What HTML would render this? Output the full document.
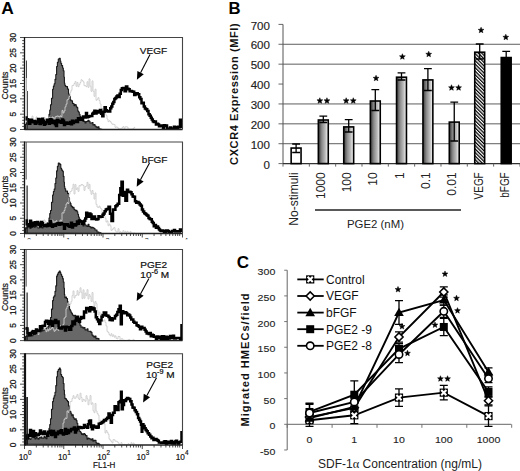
<!DOCTYPE html><html><head><meta charset="utf-8"><style>text{font-family:"Liberation Sans",sans-serif}html,body{margin:0;padding:0;background:#fff;width:520px;height:471px;overflow:hidden;position:relative}</style></head><body><svg width="520" height="471" viewBox="0 0 520 471" style="position:absolute;left:0;top:0">
<rect width="520" height="471" fill="#fff"/>
<text x="1.3" y="13.9" font-weight="bold" font-size="17.4">A</text>
<text x="228.6" y="13.85" font-weight="bold" font-size="16.7">B</text>
<text x="236.8" y="267.6" font-weight="bold" font-size="17">C</text>
<clipPath id="cb0"><rect x="24.5" y="37.5" width="158.0" height="92.0"/></clipPath>
<g clip-path="url(#cb0)">
<polygon points="25.5,129.92 25.5,129.92 25.5,124.34 26.33,124.34 26.33,122.8 27.17,122.8 27.17,123.86 28,123.86 28,122.41 29,122.41 29,123.32 30,123.32 30,124.56 31,124.56 31,122.48 32,122.48 32,122.61 33,122.61 33,122.41 34,122.41 34,124.03 35,124.03 35,123.48 36,123.48 36,122.18 37,122.18 37,121.97 38,121.97 38,124.4 39,124.4 39,123.41 40,123.41 40,121.69 41,121.69 41,121.43 42,121.43 42,122.81 43,122.81 43,122.5 44,122.5 44,120.36 45,120.36 45,123.09 46,123.09 46,121.64 47,121.64 47,121.5 48,121.5 48,120.35 49,120.35 49,114.42 49.75,114.42 49.75,109.96 50.5,109.96 50.5,104.74 51.5,104.74 51.5,98.27 52.6,98.27 52.6,89.3 53.4,89.3 53.4,86.17 54.2,86.17 54.2,83.81 55,83.81 55,79.39 55.8,79.39 55.8,74.55 56.6,74.55 56.6,66.56 57.4,66.56 57.4,62.21 58.3,62.21 58.3,59.07 59.3,59.07 59.3,58.37 60.2,58.37 60.2,60.95 60.8,60.95 60.8,63.29 61.6,63.29 61.6,65.61 62.6,65.61 62.6,67.98 63.3,67.98 63.3,70.79 64,70.79 64,77.02 64.4,77.02 64.4,83.11 64.8,83.11 64.8,85.32 65.65,85.32 65.65,86.44 66.5,86.44 66.5,86.6 67.5,86.6 67.5,88.95 68.5,88.95 68.5,94.01 69.5,94.01 69.5,96.35 70.25,96.35 70.25,99.92 71,99.92 71,100.7 71.75,100.7 71.75,100.88 72.5,100.88 72.5,103.34 73.25,103.34 73.25,103.53 74,103.53 74,105.61 74.75,105.61 74.75,104.6 75.5,104.6 75.5,104.87 76.25,104.87 76.25,106.82 77,106.82 77,107.6 77.75,107.6 77.75,110.95 78.5,110.95 78.5,112.03 79.25,112.03 79.25,114.27 80,114.27 80,116.31 80.75,116.31 80.75,118.11 81.5,118.11 81.5,118.68 82.25,118.68 82.25,119.43 83,119.43 83,121.56 84,121.56 84,121.27 85,121.27 85,122.89 86,122.89 86,121.52 87,121.52 87,121.4 88,121.4 88,120.32 89,120.32 89,121.23 90,121.23 90,123.02 91,123.02 91,123.02 92,123.02 92,122.6 93,122.6 93,124.9 94,124.9 94,124.59 95,124.59 95,126.05 96,126.05 96,126.92 97,126.92 97,127.81 98,127.81 98,126.86 99,126.86 99,128.89 100,128.89 100,129.11 101,129.11 101,129.26 102,129.26 102,129.5" fill="#686868" stroke="#1a1a1a" stroke-width="1.1" stroke-linejoin="round"/>
<polyline points="26,119.01 27,119.01 27,121.18 28,121.18 28,118.7 29,118.7 29,119.8 30,119.8 30,119.97 31,119.97 31,118.22 32,118.22 32,116.04 33,116.04 33,119.89 34,119.89 34,120.84 35,120.84 35,120.06 36,120.06 36,116.96 37,116.96 37,118.17 38,118.17 38,122.9 39,122.9 39,120.8 40,120.8 40,118.57 41,118.57 41,119.57 42,119.57 42,119.56 43,119.56 43,117.64 44,117.64 44,117.45 45,117.45 45,120.48 46,120.48 46,120.82 47,120.82 47,120.02 48,120.02 48,118.23 49,118.23 49,117.19 50,117.19 50,118.74 51,118.74 51,118.44 52,118.44 52,117.03 53,117.03 53,117.8 54,117.8 54,121.28 55,121.28 55,116.9 56,116.9 56,116.38 57,116.38 57,116 58,116 58,116.31 59,116.31 59,116.93 60,116.93 60,115.9 61,115.9 61,116.67 62,116.67 62,110.43 63,110.43 63,113 64,113 64,110.96 65,110.96 65,106.83 66,106.83 66,104.2 67,104.2 67,99.78 68,99.78 68,99.08 69,99.08 69,96.5 70,96.5 70,92.29 71,92.29 71,90.19 72,90.19 72,85.59 73,85.59 73,85.3 74,85.3 74,83.51 75,83.51 75,81.59 76,81.59 76,86.31 77,86.31 77,82.48 78,82.48 78,86.72 79,86.72 79,84.59 80,84.59 80,82.52 81,82.52 81,79.71 82,79.71 82,80.56 83,80.56 83,81.77 84,81.77 84,85.63 85,85.63 85,85.81 86,85.81 86,86.68 87,86.68 87,81.76 88,81.76 88,87.38 89,87.38 89,78.87 90,78.87 90,86.21 91,86.21 91,91.32 92,91.32 92,80.89 93,80.89 93,91.27 94,91.27 94,96.33 95,96.33 95,89.15 96,89.15 96,100.28 97,100.28 97,99.28 98,99.28 98,97.67 99,97.67 99,100.59 100,100.59 100,103.93 101,103.93 101,108.41 102,108.41 102,108.57 103,108.57 103,112.16 104,112.16 104,109.32 105,109.32 105,113.74 106,113.74 106,115.38 107,115.38 107,119.18 108,119.18 108,121.61 109,121.61 109,120.75 110,120.75 110,121.56 111,121.56 111,123.09 112,123.09 112,124.28 113,124.28 113,124.23 114,124.23 114,124.54 115,124.54 115,127.34 116,127.34 116,126.93 117,126.93 117,127.33 118,127.33 118,128.38 119,128.38 119,129.14 120,129.14 120,128.88 121,128.88 121,129.09 122,129.09 122,127.48 123,127.48 123,126.55 124,126.55 124,128.71 125,128.71 125,126.88 126,126.88 126,126.8 127,126.8 127,127.05 128,127.05 128,129.2 129,129.2 129,129.2 130,129.2 130,129.2 131,129.2 131,129.2 132,129.2 132,129.2 133,129.2 133,128.5 134,128.5 134,127.4 135,127.4 135,127.64" fill="none" stroke="#cdcdcd" stroke-width="0.9"/>
<polyline points="25.5,117.61 26.75,117.61 26.75,119.2 28,119.2 28,120.94 29,120.94 29,123.66 30,123.66 30,119.66 31,119.66 31,119.87 32,119.87 32,122.03 33,122.03 33,120.95 34,120.95 34,121.11 35,121.11 35,123.67 36,123.67 36,121.5 37,121.5 37,122.62 38,122.62 38,118.94 39,118.94 39,119.55 40,119.55 40,124.04 41,124.04 41,122.76 42,122.76 42,118.68 43,118.68 43,120.83 44,120.83 44,124.72 45,124.72 45,123.69 46,123.69 46,122.31 47,122.31 47,119.64 48,119.64 48,121.41 49,121.41 49,123.84 50,123.84 50,119.3 51,119.3 51,119.75 52,119.75 52,122.68 53,122.68 53,123.03 54,123.03 54,120.75 55,120.75 55,124.17 56,124.17 56,126.03 57,126.03 57,120.05 58,120.05 58,120.72 59,120.72 59,122.36 60,122.36 60,121.25 61,121.25 61,122.84 62,122.84 62,119.57 63,119.57 63,120.8 64,120.8 64,125 65,125 65,123.79 66,123.79 66,122.58 67,122.58 67,123.85 68,123.85 68,123.05 69,123.05 69,123.75 70,123.75 70,121.92 71,121.92 71,124.17 72,124.17 72,120.87 73,120.87 73,123.01 74,123.01 74,121.72 75,121.72 75,121.57 76,121.57 76,120.4 77,120.4 77,121.91 78,121.91 78,118.33 79,118.33 79,119.84 80,119.84 80,119.03 81,119.03 81,118.04 82,118.04 82,119.64 83,119.64 83,116.41 84,116.41 84,117.21 85,117.21 85,117.61 86,117.61 86,112.94 87,112.94 87,117.2 88,117.2 88,116.64 89,116.64 89,116.33 90.1,116.33 90.1,115.97 91.2,115.97 91.2,115.94 92.3,115.94 92.3,113.7 93.33,113.7 93.33,112.75 94.37,112.75 94.37,110.79 95.4,110.79 95.4,113.55 96.55,113.55 96.55,111.01 97.7,111.01 97.7,112.46 98.85,112.46 98.85,112.14 100,112.14 100,109.95 101.15,109.95 101.15,113.63 102.3,113.63 102.3,116.31 103.45,116.31 103.45,111.69 104.6,111.69 104.6,107.21 105.8,107.21 105.8,110.18 107,110.18 107,111.15 108.1,111.15 108.1,111.48 109.2,111.48 109.2,111.46 110.23,111.46 110.23,108.33 111.27,108.33 111.27,106.52 112.3,106.52 112.3,103.7 113.33,103.7 113.33,102.1 114.37,102.1 114.37,98.89 115.4,98.89 115.4,97.88 116.43,97.88 116.43,96.56 117.47,96.56 117.47,95.59 118.5,95.59 118.5,96.95 119.65,96.95 119.65,93.66 120.8,93.66 120.8,90.12 121.9,90.12 121.9,88.14 123,88.14 123,88.03 124.6,88.03 124.6,91.18 126,91.18 126,86.38 127.25,86.38 127.25,88.68 128.5,88.68 128.5,89.31 129.65,89.31 129.65,91.33 130.8,91.33 130.8,90.97 131.9,90.97 131.9,91.41 133,91.41 133,91.86 134.2,91.86 134.2,94.88 135.4,94.88 135.4,93.83 136.55,93.83 136.55,93.3 137.7,93.3 137.7,94.21 139.2,94.21 139.2,97.31 140.35,97.31 140.35,98.94 141.5,98.94 141.5,103.17 142.65,103.17 142.65,102.84 143.8,102.84 143.8,106.52 144.9,106.52 144.9,108.54 146,108.54 146,109.27 147.25,109.27 147.25,110.91 148.5,110.91 148.5,114.16 149.65,114.16 149.65,115.66 150.8,115.66 150.8,117.75 151.8,117.75 151.8,119.54 152.8,119.54 152.8,121.22 153.8,121.22 153.8,122.07 154.87,122.07 154.87,121.57 155.93,121.57 155.93,124.53 157,124.53 157,123.63 158,123.63 158,124.52 159,124.52 159,126.37 160,126.37 160,125.93 161,125.93 161,125.38 162,125.38 162,126.1 163,126.1 163,127.86 164,127.86 164,125.15 165,125.15 165,125.93 166,125.93 166,125.53 167,125.53 167,128.73 168,128.73 168,128.73 169,128.73 169,129 170,129 170,127.46 171,127.46 171,129 172,129 172,129 173,129 173,128.41 174,128.41 174,126.72 175,126.72 175,127.17 176,127.17 176,129 177,129 177,129 178,129 178,126.69 179,126.69 179,127.28 180,127.28 180,119.87 181,119.87 181,124.78 182,124.78 182,127.88" fill="none" stroke="#000" stroke-width="2.5" stroke-linejoin="miter" stroke-miterlimit="2"/>
<line x1="26.5" y1="60.5" x2="26.5" y2="78" stroke="#333" stroke-width="0.9"/><line x1="26.5" y1="78" x2="26.5" y2="91" stroke="#999" stroke-width="0.8"/><line x1="27.3" y1="91" x2="27.3" y2="129.5" stroke="#222" stroke-width="1"/>
</g>
<path d="M24.5,37.5 H182.5 V129.5" fill="none" stroke="#444" stroke-width="1.1"/>
<line x1="24.5" y1="129.5" x2="182.5" y2="129.5" stroke="#222" stroke-width="1.3"/>
<line x1="24.5" y1="37.0" x2="24.5" y2="130.0" stroke="#111" stroke-width="1.3"/>
<path d="M20,129.5H24.5M22.2,126.43H24.5M22.2,123.37H24.5M22.2,120.3H24.5M22.2,117.23H24.5M20,114.17H24.5M22.2,111.1H24.5M22.2,108.03H24.5M22.2,104.97H24.5M22.2,101.9H24.5M20,98.83H24.5M22.2,95.77H24.5M22.2,92.7H24.5M22.2,89.63H24.5M22.2,86.57H24.5M20,83.5H24.5M22.2,80.43H24.5M22.2,77.37H24.5M22.2,74.3H24.5M22.2,71.23H24.5M20,68.17H24.5M22.2,65.1H24.5M22.2,62.03H24.5M22.2,58.97H24.5M22.2,55.9H24.5M20,52.83H24.5M22.2,49.77H24.5M22.2,46.7H24.5M22.2,43.63H24.5M22.2,40.57H24.5M20,37.5H24.5" stroke="#222" stroke-width="0.8"/>
<text transform="translate(16.4,129.5) rotate(-90)" text-anchor="middle" font-size="8.4" fill="#111" stroke="#111" stroke-width="0.25">0</text>
<text transform="translate(16.4,114.17) rotate(-90)" text-anchor="middle" font-size="8.4" fill="#111" stroke="#111" stroke-width="0.25">5</text>
<text transform="translate(16.4,98.83) rotate(-90)" text-anchor="middle" font-size="8.4" fill="#111" stroke="#111" stroke-width="0.25">10</text>
<text transform="translate(16.4,83.5) rotate(-90)" text-anchor="middle" font-size="8.4" fill="#111" stroke="#111" stroke-width="0.25">15</text>
<text transform="translate(16.4,68.17) rotate(-90)" text-anchor="middle" font-size="8.4" fill="#111" stroke="#111" stroke-width="0.25">20</text>
<text transform="translate(16.4,52.83) rotate(-90)" text-anchor="middle" font-size="8.4" fill="#111" stroke="#111" stroke-width="0.25">25</text>
<text transform="translate(16.4,37.5) rotate(-90)" text-anchor="middle" font-size="8.4" fill="#111" stroke="#111" stroke-width="0.25">30</text>
<text transform="translate(8.2,85.5) rotate(-90)" text-anchor="middle" font-size="8.9" fill="#111" stroke="#111" stroke-width="0.2">Counts</text>
<text transform="translate(139.8,54) scale(1.13,1)" font-size="8.9" fill="#111" stroke="#111" stroke-width="0.2">VEGF</text>
<line x1="150" y1="54.6" x2="140.59" y2="72.7" stroke="#000" stroke-width="1.1"/>
<polygon points="136.9,79.8 137.4,71.04 143.78,74.36" fill="#000"/>
<clipPath id="cb1"><rect x="24.5" y="142" width="158.0" height="91.5"/></clipPath>
<g clip-path="url(#cb1)">
<polygon points="25.5,233.05 25.5,233.05 25.5,227.68 26.33,227.68 26.33,228.19 27.17,228.19 27.17,225.78 28,225.78 28,226.18 29,226.18 29,226.28 30,226.28 30,228.5 31,228.5 31,225.65 32,225.65 32,226.54 33,226.54 33,225.38 34,225.38 34,227.11 35,227.11 35,226.89 36,226.89 36,225.87 37,225.87 37,225.73 38,225.73 38,228.06 39,228.06 39,227.64 40,227.64 40,225.94 41,225.94 41,227.13 42,227.13 42,227.94 43,227.94 43,227.06 44,227.06 44,226.58 45,226.58 45,226.72 46,226.72 46,226.95 47,226.95 47,225.47 48,225.47 48,222.88 49,222.88 49,218 49.75,218 49.75,213.62 50.5,213.62 50.5,210.51 51.5,210.51 51.5,202.19 52.6,202.19 52.6,195.06 53.4,195.06 53.4,191.53 54.2,191.53 54.2,189.12 55,189.12 55,183.44 55.8,183.44 55.8,177.94 56.6,177.94 56.6,170.89 57.4,170.89 57.4,166.24 58.3,166.24 58.3,163.16 59.3,163.16 59.3,163.86 60.2,163.86 60.2,164.42 60.8,164.42 60.8,168.32 61.6,168.32 61.6,170.15 62.6,170.15 62.6,171.32 63.3,171.32 63.3,176.34 64,176.34 64,182 64.4,182 64.4,186.52 64.8,186.52 64.8,188.78 65.65,188.78 65.65,191.31 66.5,191.31 66.5,191.12 67.5,191.12 67.5,193.4 68.5,193.4 68.5,197.53 69.5,197.53 69.5,202.05 70.25,202.05 70.25,203.67 71,203.67 71,205.86 71.75,205.86 71.75,206.67 72.5,206.67 72.5,207.8 73.25,207.8 73.25,207.18 74,207.18 74,209.34 74.75,209.34 74.75,210.05 75.5,210.05 75.5,210.74 76.25,210.74 76.25,210.41 77,210.41 77,211.82 77.75,211.82 77.75,214.2 78.5,214.2 78.5,217.02 79.25,217.02 79.25,219.12 80,219.12 80,221 80.75,221 80.75,222.1 81.5,222.1 81.5,224.32 82.25,224.32 82.25,224.63 83,224.63 83,226.07 84,226.07 84,224.56 85,224.56 85,224.7 86,224.7 86,225.89 87,225.89 87,226.36 88,226.36 88,224.38 89,224.38 89,226.46 90,226.46 90,226.84 91,226.84 91,227.95 92,227.95 92,227.28 93,227.28 93,227.81 94,227.81 94,228.49 95,228.49 95,229.97 96,229.97 96,229.99 97,229.99 97,231.94 98,231.94 98,232.07 99,232.07 99,232.98 100,232.98 100,232.74 101,232.74 101,234.1 102,234.1 102,233.5" fill="#686868" stroke="#1a1a1a" stroke-width="1.1" stroke-linejoin="round"/>
<polyline points="26,226.41 27,226.41 27,224.28 28,224.28 28,223.57 29,223.57 29,223.66 30,223.66 30,225.38 31,225.38 31,222.5 32,222.5 32,220.87 33,220.87 33,222.14 34,222.14 34,222.98 35,222.98 35,223.94 36,223.94 36,223.2 37,223.2 37,222.06 38,222.06 38,226.9 39,226.9 39,222.6 40,222.6 40,220.93 41,220.93 41,224.32 42,224.32 42,222.16 43,222.16 43,220.43 44,220.43 44,219.99 45,219.99 45,221.56 46,221.56 46,223.25 47,223.25 47,224.94 48,224.94 48,222.4 49,222.4 49,222.98 50,222.98 50,222.16 51,222.16 51,221.28 52,221.28 52,220.19 53,220.19 53,222.16 54,222.16 54,221.93 55,221.93 55,221.77 56,221.77 56,220.73 57,220.73 57,222.58 58,222.58 58,223.38 59,223.38 59,221.97 60,221.97 60,220.06 61,220.06 61,220.66 62,220.66 62,212.81 63,212.81 63,213.03 64,213.03 64,210.48 65,210.48 65,207.49 66,207.49 66,204.05 67,204.05 67,202.59 68,202.59 68,203.47 69,203.47 69,194.12 70,194.12 70,191.51 71,191.51 71,190.98 72,190.98 72,188.22 73,188.22 73,184.23 74,184.23 74,193.97 75,193.97 75,184.61 76,184.61 76,189.48 77,189.48 77,187.9 78,187.9 78,191.38 79,191.38 79,185.67 80,185.67 80,185.86 81,185.86 81,184.58 82,184.58 82,184.69 83,184.69 83,185.55 84,185.55 84,190.44 85,190.44 85,186.67 86,186.67 86,186.03 87,186.03 87,182.36 88,182.36 88,188.56 89,188.56 89,184.36 90,184.36 90,190.88 91,190.88 91,194.32 92,194.32 92,190.47 93,190.47 93,193.55 94,193.55 94,199.06 95,199.06 95,192.96 96,192.96 96,204.4 97,204.4 97,207.01 98,207.01 98,207.35 99,207.35 99,206.12 100,206.12 100,207.96 101,207.96 101,209.09 102,209.09 102,213.17 103,213.17 103,213.37 104,213.37 104,215.78 105,215.78 105,218.27 106,218.27 106,222.03 107,222.03 107,220.93 108,220.93 108,225.7 109,225.7 109,224.09 110,224.09 110,225.75 111,225.75 111,230.43 112,230.43 112,229.66 113,229.66 113,228.22 114,228.22 114,227.63 115,227.63 115,230.45 116,230.45 116,231.93 117,231.93 117,231.91 118,231.91 118,228.72 119,228.72 119,232.41 120,232.41 120,231.67 121,231.67 121,233.2 122,233.2 122,232.15 123,232.15 123,230.56 124,230.56 124,233.2 125,233.2 125,231.34 126,231.34 126,232.72 127,232.72 127,231.33 128,231.33 128,232.19 129,232.19 129,233.2 130,233.2 130,231.41 131,231.41 131,233.06 132,233.06 132,233.2 133,233.2 133,233.2 134,233.2 134,233.03 135,233.03 135,233.2" fill="none" stroke="#cdcdcd" stroke-width="0.9"/>
<polyline points="25.5,220.53 26.75,220.53 26.75,224.37 28,224.37 28,226.31 29,226.31 29,224.96 30,224.96 30,220.73 31,220.73 31,226.59 32,226.59 32,224.2 33,224.2 33,222.74 34,222.74 34,225.48 35,225.48 35,222.28 36,222.28 36,224.39 37,224.39 37,221.91 38,221.91 38,223.59 39,223.59 39,224.66 40,224.66 40,226.06 41,226.06 41,221.91 42,221.91 42,223.04 43,223.04 43,225.22 44,225.22 44,225.87 45,225.87 45,225.17 46,225.17 46,224.85 47,224.85 47,226.07 48,226.07 48,223.76 49,223.76 49,225.61 50,225.61 50,221.23 51,221.23 51,225.8 52,225.8 52,226.72 53,226.72 53,224.44 54,224.44 54,225.11 55,225.11 55,225.66 56,225.66 56,224.13 57,224.13 57,223.5 58,223.5 58,222.88 59,222.88 59,224.82 60,224.82 60,224.35 61,224.35 61,223.21 62,223.21 62,224.24 63,224.24 63,224.36 64,224.36 64,228.84 65,228.84 65,224.29 66,224.29 66,224.76 67,224.76 67,224.19 68,224.19 68,225.75 69,225.75 69,226.61 70,226.61 70,226.85 71,226.85 71,222.78 72,222.78 72,227.44 73,227.44 73,224.64 74,224.64 74,224.31 75,224.31 75,225.55 76,225.55 76,224.26 77,224.26 77,221.52 78,221.52 78,223.75 79,223.75 79,220.54 80,220.54 80,221.24 81.15,221.24 81.15,221.45 82.3,221.45 82.3,223.85 83.28,223.85 83.28,222.9 84.25,222.9 84.25,220.81 85.22,220.81 85.22,218.44 86.2,218.44 86.2,212.69 87.2,212.69 87.2,215.05 88.2,215.05 88.2,216.72 89.2,216.72 89.2,213.39 90.35,213.39 90.35,214.52 91.5,214.52 91.5,218.96 92.65,218.96 92.65,218.62 93.8,218.62 93.8,216.4 95,216.4 95,218.88 96.2,218.88 96.2,219.52 97.35,219.52 97.35,218.88 98.5,218.88 98.5,216.16 99.5,216.16 99.5,217.12 100.5,217.12 100.5,216.72 101.5,216.72 101.5,216.79 102.53,216.79 102.53,214.85 103.57,214.85 103.57,213.54 104.6,213.54 104.6,211.17 105.8,211.17 105.8,209.62 107,209.62 107,208.88 108.5,208.88 108.5,206.8 110,206.8 110,213.87 111.5,213.87 111.5,220.89 113,220.89 113,209.44 114.2,209.44 114.2,209.77 115.4,209.77 115.4,206.29 116.55,206.29 116.55,205.15 117.7,205.15 117.7,203.67 119.2,203.67 119.2,194.89 120.35,194.89 120.35,188.16 121.5,188.16 121.5,181.68 122.8,181.68 122.8,195.81 123.7,195.81 123.7,194.67 124.6,194.67 124.6,192.08 125.4,192.08 125.4,200.71 127,200.71 127,189.74 128.1,189.74 128.1,192.04 129.2,192.04 129.2,191.66 130.35,191.66 130.35,192.2 131.5,192.2 131.5,194.27 132.65,194.27 132.65,196.38 133.8,196.38 133.8,196.83 135,196.83 135,201.36 136.2,201.36 136.2,202.84 137.35,202.84 137.35,201.92 138.5,201.92 138.5,202.98 139.65,202.98 139.65,204.49 140.8,204.49 140.8,205.73 141.9,205.73 141.9,209.48 143,209.48 143,211.42 144.2,211.42 144.2,213.18 145.4,213.18 145.4,213.93 146.43,213.93 146.43,215 147.47,215 147.47,215.76 148.5,215.76 148.5,218.01 149.65,218.01 149.65,218.99 150.8,218.99 150.8,219.37 151.8,219.37 151.8,221.87 152.8,221.87 152.8,223.11 153.8,223.11 153.8,226.24 154.87,226.24 154.87,224.92 155.93,224.92 155.93,227.63 157,227.63 157,226.49 158,226.49 158,227.88 159,227.88 159,229.48 160,229.48 160,230.56 161,230.56 161,230.97 162,230.97 162,230.57 163,230.57 163,230.88 164,230.88 164,233 165,233 165,232.59 166,232.59 166,230.42 167,230.42 167,230.49 168,230.49 168,231.35 169,231.35 169,232.61 170,232.61 170,232.18 171,232.18 171,233 172,233 172,231.12 173,231.12 173,231.12 174,231.12 174,230.07 175,230.07 175,231.55 176,231.55 176,231.3 177,231.3 177,231.58 178,231.58 178,231.33 179,231.33 179,231.54 180,231.54 180,229.56 181,229.56 181,230.61 182,230.61 182,232.1" fill="none" stroke="#000" stroke-width="2.5" stroke-linejoin="miter" stroke-miterlimit="2"/>
<line x1="27.1" y1="185.5" x2="27.1" y2="233.5" stroke="#111" stroke-width="1.1"/>
<line x1="26.2" y1="142" x2="26.2" y2="179.5" stroke="#444" stroke-width="0.9"/>
</g>
<path d="M24.5,142 H182.5 V233.5" fill="none" stroke="#444" stroke-width="1.1"/>
<line x1="24.5" y1="233.5" x2="182.5" y2="233.5" stroke="#222" stroke-width="1.3"/>
<line x1="24.5" y1="141.5" x2="24.5" y2="234.0" stroke="#111" stroke-width="1.3"/>
<path d="M20,233.5H24.5M22.2,230.45H24.5M22.2,227.4H24.5M22.2,224.35H24.5M22.2,221.3H24.5M20,218.25H24.5M22.2,215.2H24.5M22.2,212.15H24.5M22.2,209.1H24.5M22.2,206.05H24.5M20,203H24.5M22.2,199.95H24.5M22.2,196.9H24.5M22.2,193.85H24.5M22.2,190.8H24.5M20,187.75H24.5M22.2,184.7H24.5M22.2,181.65H24.5M22.2,178.6H24.5M22.2,175.55H24.5M20,172.5H24.5M22.2,169.45H24.5M22.2,166.4H24.5M22.2,163.35H24.5M22.2,160.3H24.5M20,157.25H24.5M22.2,154.2H24.5M22.2,151.15H24.5M22.2,148.1H24.5M22.2,145.05H24.5M20,142H24.5" stroke="#222" stroke-width="0.8"/>
<text transform="translate(16.4,233.5) rotate(-90)" text-anchor="middle" font-size="8.4" fill="#111" stroke="#111" stroke-width="0.25">0</text>
<text transform="translate(16.4,218.25) rotate(-90)" text-anchor="middle" font-size="8.4" fill="#111" stroke="#111" stroke-width="0.25">5</text>
<text transform="translate(16.4,203) rotate(-90)" text-anchor="middle" font-size="8.4" fill="#111" stroke="#111" stroke-width="0.25">10</text>
<text transform="translate(16.4,187.75) rotate(-90)" text-anchor="middle" font-size="8.4" fill="#111" stroke="#111" stroke-width="0.25">15</text>
<text transform="translate(16.4,172.5) rotate(-90)" text-anchor="middle" font-size="8.4" fill="#111" stroke="#111" stroke-width="0.25">20</text>
<text transform="translate(16.4,157.25) rotate(-90)" text-anchor="middle" font-size="8.4" fill="#111" stroke="#111" stroke-width="0.25">25</text>
<text transform="translate(16.4,142) rotate(-90)" text-anchor="middle" font-size="8.4" fill="#111" stroke="#111" stroke-width="0.25">30</text>
<text transform="translate(8.2,189.75) rotate(-90)" text-anchor="middle" font-size="8.9" fill="#111" stroke="#111" stroke-width="0.2">Counts</text>
<path d="M24.5,233.5v4M36.32,233.5v2.5M43.23,233.5v2.5M48.13,233.5v2.5M51.93,233.5v2.5M55.04,233.5v2.5M57.67,233.5v2.5M59.95,233.5v2.5M61.95,233.5v2.5M63.75,233.5v4M75.57,233.5v2.5M82.48,233.5v2.5M87.38,233.5v2.5M91.18,233.5v2.5M94.29,233.5v2.5M96.92,233.5v2.5M99.2,233.5v2.5M101.2,233.5v2.5M103,233.5v4M114.82,233.5v2.5M121.73,233.5v2.5M126.63,233.5v2.5M130.43,233.5v2.5M133.54,233.5v2.5M136.17,233.5v2.5M138.45,233.5v2.5M140.45,233.5v2.5M142.25,233.5v4M154.07,233.5v2.5M160.98,233.5v2.5M165.88,233.5v2.5M169.68,233.5v2.5M172.79,233.5v2.5M175.42,233.5v2.5M177.7,233.5v2.5M179.7,233.5v2.5M182.5,233.5v4" stroke="#222" stroke-width="0.8"/>
<text transform="translate(141.8,162.5) scale(1.13,1)" font-size="8.9" fill="#111" stroke="#111" stroke-width="0.2">bFGF</text>
<line x1="149.5" y1="162.9" x2="140.48" y2="179.75" stroke="#000" stroke-width="1.1"/>
<polygon points="136.7,186.8 137.3,178.05 143.65,181.45" fill="#000"/>
<clipPath id="cb2"><rect x="24.5" y="249.5" width="158.0" height="91.10000000000002"/></clipPath>
<g clip-path="url(#cb2)">
<polygon points="25.5,341.75 25.5,341.75 25.5,336.6 26.33,336.6 26.33,335.85 27.17,335.85 27.17,336.13 28,336.13 28,336.18 29,336.18 29,335.45 30,335.45 30,335.08 31,335.08 31,336.01 32,336.01 32,335.72 33,335.72 33,334.49 34,334.49 34,333.79 35,333.79 35,332.66 36,332.66 36,333.32 37,333.32 37,331.64 38,331.64 38,331.53 39,331.53 39,331.59 40,331.59 40,331.81 41,331.81 41,329.72 42,329.72 42,331.05 43,331.05 43,329.33 44,329.33 44,330.25 45,330.25 45,329.77 46,329.77 46,327.97 47,327.97 47,328.59 48,328.59 48,326.52 49,326.52 49,324.61 49.75,324.61 49.75,321.47 50.5,321.47 50.5,317.5 51.5,317.5 51.5,309.12 52.6,309.12 52.6,300.6 53.4,300.6 53.4,296.95 54.2,296.95 54.2,295.91 55,295.91 55,291.36 55.8,291.36 55.8,285.85 56.6,285.85 56.6,276.1 57.4,276.1 57.4,274.14 58.3,274.14 58.3,272.38 59.3,272.38 59.3,271.07 60.2,271.07 60.2,272.55 60.8,272.55 60.8,274.3 61.6,274.3 61.6,276.32 62.6,276.32 62.6,278.66 63.3,278.66 63.3,281.99 64,281.99 64,288.08 64.4,288.08 64.4,294.48 64.8,294.48 64.8,297.79 65.65,297.79 65.65,296.98 66.5,296.98 66.5,298.43 67.5,298.43 67.5,302.12 68.5,302.12 68.5,304.57 69.5,304.57 69.5,309.21 70.25,309.21 70.25,310.71 71,310.71 71,312.29 71.75,312.29 71.75,313.67 72.5,313.67 72.5,315.06 73.25,315.06 73.25,315.39 74,315.39 74,316.21 74.75,316.21 74.75,315.25 75.5,315.25 75.5,317.74 76.25,317.74 76.25,317.11 77,317.11 77,320.3 77.75,320.3 77.75,321.44 78.5,321.44 78.5,321.83 79.25,321.83 79.25,323.08 80,323.08 80,325.26 81,325.26 81,327.13 82,327.13 82,327.06 83,327.06 83,328.11 84,328.11 84,327.59 85,327.59 85,329.84 86,329.84 86,329.93 87,329.93 87,328.9 88,328.9 88,331.23 89,331.23 89,331.31 90,331.31 90,331.35 91,331.35 91,332.41 92,332.41 92,335.1 93,335.1 93,336.17 94,336.17 94,337.15 95,337.15 95,336.09 96,336.09 96,338.68 97,338.68 97,338.26 98,338.26 98,338.64 99,338.64 99,340.49 100,340.49 100,340.6" fill="#686868" stroke="#1a1a1a" stroke-width="1.1" stroke-linejoin="round"/>
<polyline points="26,332.51 27,332.51 27,328.77 28,328.77 28,329.13 29,329.13 29,332.05 30,332.05 30,331.73 31,331.73 31,331.33 32,331.33 32,329.5 33,329.5 33,332.08 34,332.08 34,330.58 35,330.58 35,328.93 36,328.93 36,329.06 37,329.06 37,329.33 38,329.33 38,334.5 39,334.5 39,331.66 40,331.66 40,328.7 41,328.7 41,327.77 42,327.77 42,328.78 43,328.78 43,329.55 44,329.55 44,328.6 45,328.6 45,329.88 46,329.88 46,331.63 47,331.63 47,328.89 48,328.89 48,330.87 49,330.87 49,328.89 50,328.89 50,329.65 51,329.65 51,328.31 52,328.31 52,327.51 53,327.51 53,329.17 54,329.17 54,331.29 55,331.29 55,330.32 56,330.32 56,329.15 57,329.15 57,327.47 58,327.47 58,330.28 59,330.28 59,328.81 60,328.81 60,325.59 61,325.59 61,326.62 62,326.62 62,326.08 63,326.08 63,324.33 64,324.33 64,318.18 65,318.18 65,316.99 66,316.99 66,308.76 67,308.76 67,306.53 68,306.53 68,302.7 69,302.7 69,305.48 70,305.48 70,303.93 71,303.93 71,301.33 72,301.33 72,295.61 73,295.61 73,290.92 74,290.92 74,298.02 75,298.02 75,295.73 76,295.73 76,295.27 77,295.27 77,290.64 78,290.64 78,295.21 79,295.21 79,292.62 80,292.62 80,287.82 81,287.82 81,292.28 82,292.28 82,298.63 83,298.63 83,289.87 84,289.87 84,298.25 85,298.25 85,293.06 86,293.06 86,295.62 87,295.62 87,289.7 88,289.7 88,299.01 89,299.01 89,294.62 90,294.62 90,296.64 91,296.64 91,301.37 92,301.37 92,292.53 93,292.53 93,301.97 94,301.97 94,305.99 95,305.99 95,301.43 96,301.43 96,303.66 97,303.66 97,310.54 98,310.54 98,314.75 99,314.75 99,312.13 100,312.13 100,315.37 101,315.37 101,313.67 102,313.67 102,321.78 103,321.78 103,320.8 104,320.8 104,320.05 105,320.05 105,322.38 106,322.38 106,325.94 107,325.94 107,331.44 108,331.44 108,332.43 109,332.43 109,334.62 110,334.62 110,335.84 111,335.84 111,333.71 112,333.71 112,336.27 113,336.27 113,334.88 114,334.88 114,337.11 115,337.11 115,335.89 116,335.89 116,338.3 117,338.3 117,338.81 118,338.81 118,336.49 119,336.49 119,336.57 120,336.57 120,340.3 121,340.3 121,338.84 122,338.84 122,338.87 123,338.87 123,340.3 124,340.3 124,340.13 125,340.13 125,340.3 126,340.3 126,340.3 127,340.3 127,340.3 128,340.3 128,339.7 129,339.7 129,339.49 130,339.49 130,340.3 131,340.3 131,340.3 132,340.3 132,340.3 133,340.3 133,339.39 134,339.39 134,340.3 135,340.3 135,340.3" fill="none" stroke="#cdcdcd" stroke-width="0.9"/>
<polyline points="25.5,328.14 26.5,328.14 26.5,328.56 27.5,328.56 27.5,333.35 28.75,333.35 28.75,335.37 30,335.37 30,334.67 31.07,334.67 31.07,332.91 32.13,332.91 32.13,331.87 33.2,331.87 33.2,331.18 34.13,331.18 34.13,333.59 35.07,333.59 35.07,332.78 36,332.78 36,329.58 37,329.58 37,330.74 38,330.74 38,331.06 39,331.06 39,330.6 40,330.6 40,326.24 41,326.24 41,328.58 42.3,328.58 42.3,325.95 43.6,325.95 43.6,325.74 45,325.74 45,322.03 46,322.03 46,320.71 47,320.71 47,321.02 48,321.02 48,323.81 49,323.81 49,324.17 50,324.17 50,320.91 51,320.91 51,324.14 52,324.14 52,325.67 53,325.67 53,321.51 54,321.51 54,323 55,323 55,319.93 56.2,319.93 56.2,323.09 57.4,323.09 57.4,321.61 58.6,321.61 58.6,327.8 59.8,327.8 59.8,328.55 61,328.55 61,328.52 62,328.52 62,326.77 63,326.77 63,327.34 64,327.34 64,326.97 65,326.97 65,330.4 66,330.4 66,326.8 67,326.8 67,327.27 68,327.27 68,327.24 69,327.24 69,329.77 70,329.77 70,329.73 71.2,329.73 71.2,325.99 72.4,325.99 72.4,321.39 73.7,321.39 73.7,324.13 75,324.13 75,320.65 76,320.65 76,318.35 77,318.35 77,316.84 78,316.84 78,320.17 79,320.17 79,321.74 80,321.74 80,318.7 81.15,318.7 81.15,316.98 82.3,316.98 82.3,317.99 83.15,317.99 83.15,318.07 84,318.07 84,311.38 85.1,311.38 85.1,312.48 86.2,312.48 86.2,308.1 87.2,308.1 87.2,309.31 88.2,309.31 88.2,307.98 89.2,307.98 89.2,311.17 90.23,311.17 90.23,307.18 91.27,307.18 91.27,309.38 92.3,309.38 92.3,307.7 93.45,307.7 93.45,308.45 94.6,308.45 94.6,311.59 95.8,311.59 95.8,317.25 97,317.25 97,319.37 98.1,319.37 98.1,321.47 99.2,321.47 99.2,323.91 100.35,323.91 100.35,320.16 101.5,320.16 101.5,316.78 102.65,316.78 102.65,315.24 103.8,315.24 103.8,312.6 105,312.6 105,312.46 106.2,312.46 106.2,315.53 107.35,315.53 107.35,315.81 108.5,315.81 108.5,317.1 109.65,317.1 109.65,320.09 110.8,320.09 110.8,318.34 111.8,318.34 111.8,320.33 112.8,320.33 112.8,318.56 113.8,318.56 113.8,318.44 115,318.44 115,315.95 116.2,315.95 116.2,314.7 117.35,314.7 117.35,312.1 118.5,312.1 118.5,309.34 119.7,309.34 119.7,305.83 120.8,305.83 120.8,324.3 121.8,324.3 121.8,311.27 122.8,311.27 122.8,311.64 123.8,311.64 123.8,313.29 125,313.29 125,312.18 126.2,312.18 126.2,313.33 127.2,313.33 127.2,315.16 128.2,315.16 128.2,314.54 129.2,314.54 129.2,315.53 130.23,315.53 130.23,317.56 131.27,317.56 131.27,319.47 132.3,319.47 132.3,319.58 133.33,319.58 133.33,321.73 134.37,321.73 134.37,322.66 135.4,322.66 135.4,322.72 136.55,322.72 136.55,325.32 137.7,325.32 137.7,325.78 138.85,325.78 138.85,326.72 140,326.72 140,329.33 141.15,329.33 141.15,326.82 142.3,326.82 142.3,327.9 143.45,327.9 143.45,327.92 144.6,327.92 144.6,329.83 145.63,329.83 145.63,331.43 146.67,331.43 146.67,333.62 147.7,333.62 147.7,332.99 148.73,332.99 148.73,334.11 149.77,334.11 149.77,333.06 150.8,333.06 150.8,336.34 151.8,336.34 151.8,334.85 152.8,334.85 152.8,335.19 153.8,335.19 153.8,336.78 154.87,336.78 154.87,336.72 155.93,336.72 155.93,338.86 157,338.86 157,336.6 158,336.6 158,338.19 159,338.19 159,336.81 160,336.81 160,337 161,337 161,338.74 162,338.74 162,336.2 163,336.2 163,336.26 164,336.26 164,339.46 165,339.46 165,338.32 166,338.32 166,336.8 167,336.8 167,339.16 168,339.16 168,337.36 169,337.36 169,338.55 170,338.55 170,336.12 171,336.12 171,337.96 172,337.96 172,336.59 173,336.59 173,335.79 174,335.79 174,338.51 175,338.51 175,338.59 176,338.59 176,338.08 177,338.08 177,337.91 178,337.91 178,338.05 179,338.05 179,338.09 180,338.09 180,338.66 181.5,338.66 181.5,325.24 182,325.24 182,337.04" fill="none" stroke="#000" stroke-width="2.5" stroke-linejoin="miter" stroke-miterlimit="2"/>
<line x1="27.1" y1="292.6" x2="27.1" y2="340.6" stroke="#111" stroke-width="1.1"/>
<line x1="26.2" y1="249.5" x2="26.2" y2="286.6" stroke="#444" stroke-width="0.9"/>
</g>
<path d="M24.5,249.5 H182.5 V340.6" fill="none" stroke="#444" stroke-width="1.1"/>
<line x1="24.5" y1="340.6" x2="182.5" y2="340.6" stroke="#222" stroke-width="1.3"/>
<line x1="24.5" y1="249.0" x2="24.5" y2="341.1" stroke="#111" stroke-width="1.3"/>
<path d="M20,340.6H24.5M22.2,337.56H24.5M22.2,334.53H24.5M22.2,331.49H24.5M22.2,328.45H24.5M20,325.42H24.5M22.2,322.38H24.5M22.2,319.34H24.5M22.2,316.31H24.5M22.2,313.27H24.5M20,310.23H24.5M22.2,307.2H24.5M22.2,304.16H24.5M22.2,301.12H24.5M22.2,298.09H24.5M20,295.05H24.5M22.2,292.01H24.5M22.2,288.98H24.5M22.2,285.94H24.5M22.2,282.9H24.5M20,279.87H24.5M22.2,276.83H24.5M22.2,273.79H24.5M22.2,270.76H24.5M22.2,267.72H24.5M20,264.68H24.5M22.2,261.65H24.5M22.2,258.61H24.5M22.2,255.57H24.5M22.2,252.54H24.5M20,249.5H24.5" stroke="#222" stroke-width="0.8"/>
<text transform="translate(16.4,340.6) rotate(-90)" text-anchor="middle" font-size="8.4" fill="#111" stroke="#111" stroke-width="0.25">0</text>
<text transform="translate(16.4,325.42) rotate(-90)" text-anchor="middle" font-size="8.4" fill="#111" stroke="#111" stroke-width="0.25">5</text>
<text transform="translate(16.4,310.23) rotate(-90)" text-anchor="middle" font-size="8.4" fill="#111" stroke="#111" stroke-width="0.25">10</text>
<text transform="translate(16.4,295.05) rotate(-90)" text-anchor="middle" font-size="8.4" fill="#111" stroke="#111" stroke-width="0.25">15</text>
<text transform="translate(16.4,279.87) rotate(-90)" text-anchor="middle" font-size="8.4" fill="#111" stroke="#111" stroke-width="0.25">20</text>
<text transform="translate(16.4,264.68) rotate(-90)" text-anchor="middle" font-size="8.4" fill="#111" stroke="#111" stroke-width="0.25">25</text>
<text transform="translate(16.4,249.5) rotate(-90)" text-anchor="middle" font-size="8.4" fill="#111" stroke="#111" stroke-width="0.25">30</text>
<text transform="translate(8.2,297.05) rotate(-90)" text-anchor="middle" font-size="8.9" fill="#111" stroke="#111" stroke-width="0.2">Counts</text>
<text transform="translate(140.3,267.75) scale(1.13,1)" font-size="8.9" fill="#111" stroke="#111" stroke-width="0.2">PGE2</text>
<text transform="translate(140.3,278.25) scale(1.13,1)" font-size="8.9" fill="#111" stroke="#111" stroke-width="0.2">10<tspan font-size="6.4" dy="-3.8">-6</tspan><tspan dy="3.8" font-size="8.9"> M</tspan></text>
<line x1="148.9" y1="278.4" x2="140.5" y2="293.96" stroke="#000" stroke-width="1.1"/>
<polygon points="136.7,301 137.33,292.25 143.67,295.67" fill="#000"/>
<clipPath id="cb3"><rect x="24.5" y="353.75" width="158.0" height="91.25"/></clipPath>
<g clip-path="url(#cb3)">
<polygon points="25.5,444.05 25.5,444.05 25.5,439.8 26.33,439.8 26.33,437.98 27.17,437.98 27.17,439.26 28,439.26 28,437.93 29,437.93 29,438.17 30,438.17 30,439.34 31,439.34 31,437.1 32,437.1 32,436.87 33,436.87 33,437.56 34,437.56 34,437.58 35,437.58 35,438.95 36,438.95 36,436.32 37,436.32 37,437.94 38,437.94 38,439.25 39,439.25 39,437.54 40,437.54 40,438.06 41,438.06 41,436.82 42,436.82 42,438.31 43,438.31 43,438.09 44,438.09 44,436.36 45,436.36 45,437.64 46,437.64 46,438.78 47,438.78 47,435.92 48,435.92 48,436.08 49,436.08 49,428.23 49.75,428.23 49.75,424.63 50.5,424.63 50.5,418.75 51.5,418.75 51.5,409.28 52.6,409.28 52.6,401.59 53.4,401.59 53.4,398.17 54.2,398.17 54.2,395.77 55,395.77 55,392.2 55.8,392.2 55.8,385.64 56.6,385.64 56.6,376.72 57.4,376.72 57.4,371.28 58.3,371.28 58.3,369.56 59.3,369.56 59.3,367.97 60.2,367.97 60.2,369.53 60.8,369.53 60.8,374.6 61.6,374.6 61.6,376.53 62.6,376.53 62.6,377.67 63.3,377.67 63.3,383.51 64,383.51 64,390.03 64.4,390.03 64.4,394.59 64.8,394.59 64.8,398.42 65.65,398.42 65.65,398.9 66.5,398.9 66.5,400.3 67.5,400.3 67.5,401.6 68.5,401.6 68.5,405.91 69.5,405.91 69.5,411.15 70.25,411.15 70.25,411.76 71,411.76 71,413.74 71.75,413.74 71.75,415.64 72.5,415.64 72.5,414.79 73.25,414.79 73.25,417.54 74,417.54 74,418.84 74.75,418.84 74.75,419.51 75.5,419.51 75.5,418.75 76.25,418.75 76.25,420.65 77,420.65 77,423.32 77.75,423.32 77.75,426.24 78.5,426.24 78.5,428.57 79.25,428.57 79.25,431.17 80,431.17 80,431.65 80.75,431.65 80.75,432.85 81.5,432.85 81.5,434.36 82.25,434.36 82.25,433.9 83,433.9 83,434.63 83.83,434.63 83.83,433.62 84.67,433.62 84.67,434.27 85.5,434.27 85.5,435.6 86.25,435.6 86.25,435.53 87,435.53 87,439.09 88,439.09 88,438.09 89,438.09 89,438.56 90,438.56 90,439.13 91,439.13 91,440.06 92,440.06 92,438.83 93,438.83 93,441.17 94,441.17 94,440.38 95,440.38 95,440.19 96,440.19 96,442.86 97,442.86 97,443.47 98,443.47 98,443.24 99,443.24 99,444.23 100,444.23 100,445" fill="#686868" stroke="#1a1a1a" stroke-width="1.1" stroke-linejoin="round"/>
<polyline points="26,435.43 27,435.43 27,433.75 28,433.75 28,435.3 29,435.3 29,436.26 30,436.26 30,437.8 31,437.8 31,436.81 32,436.81 32,431.44 33,431.44 33,433.37 34,433.37 34,435.14 35,435.14 35,436.97 36,436.97 36,432.62 37,432.62 37,434.52 38,434.52 38,437.14 39,437.14 39,434.03 40,434.03 40,433.19 41,433.19 41,435.1 42,435.1 42,436.58 43,436.58 43,434.57 44,434.57 44,433.84 45,433.84 45,434.66 46,434.66 46,435 47,435 47,434.22 48,434.22 48,432.62 49,432.62 49,433.65 50,433.65 50,435.94 51,435.94 51,433.78 52,433.78 52,433.26 53,433.26 53,432.85 54,432.85 54,434.91 55,434.91 55,434.94 56,434.94 56,432.43 57,432.43 57,431.14 58,431.14 58,434.13 59,434.13 59,430.48 60,430.48 60,432.94 61,432.94 61,430.92 62,430.92 62,429.11 63,429.11 63,423.05 64,423.05 64,419.44 65,419.44 65,418.03 66,418.03 66,418.39 67,418.39 67,410.96 68,410.96 68,412.37 69,412.37 69,410.09 70,410.09 70,401.74 71,401.74 71,401.45 72,401.45 72,398.46 73,398.46 73,395.68 74,395.68 74,398.17 75,398.17 75,398.24 76,398.24 76,396.28 77,396.28 77,394.42 78,394.42 78,398.14 79,398.14 79,399.5 80,399.5 80,393.2 81,393.2 81,397.44 82,397.44 82,401.54 83,401.54 83,399.3 84,399.3 84,400.02 85,400.02 85,401.38 86,401.38 86,395.71 87,395.71 87,398.84 88,398.84 88,404.78 89,404.78 89,400.15 90,400.15 90,395.57 91,395.57 91,404.24 92,404.24 92,402.87 93,402.87 93,410.77 94,410.77 94,412.67 95,412.67 95,403.46 96,403.46 96,410.93 97,410.93 97,413.42 98,413.42 98,415.11 99,415.11 99,422.47 100,422.47 100,420.28 101,420.28 101,423.09 102,423.09 102,420.46 103,420.46 103,422.44 104,422.44 104,423.87 105,423.87 105,432.97 106,432.97 106,430.53 107,430.53 107,432.34 108,432.34 108,434.22 109,434.22 109,439.07 110,439.07 110,440.18 111,440.18 111,441.55 112,441.55 112,442.86 113,442.86 113,439.61 114,439.61 114,439.75 115,439.75 115,441.21 116,441.21 116,441.2 117,441.2 117,441.72 118,441.72 118,442.85 119,442.85 119,444.35 120,444.35 120,444.7 121,444.7 121,442.6 122,442.6 122,444.7 123,444.7 123,444.6 124,444.6 124,444.3 125,444.3 125,444.7 126,444.7 126,444.7 127,444.7 127,444.7 128,444.7 128,443.64 129,443.64 129,444.7 130,444.7 130,444.7 131,444.7 131,442.64 132,442.64 132,444.49 133,444.49 133,443.09 134,443.09 134,444.03 135,444.03 135,444.7" fill="none" stroke="#cdcdcd" stroke-width="0.9"/>
<polyline points="25.5,435.45 27,435.45 27,438.33 28,438.33 28,435.08 29,435.08 29,435.8 30,435.8 30,429.94 31,429.94 31,435.8 32,435.8 32,435.97 33,435.97 33,431.12 34,431.12 34,436.13 35,436.13 35,433.34 36,433.34 36,435.21 37,435.21 37,434.59 38,434.59 38,435.05 39,435.05 39,433.64 40,433.64 40,430.52 41,430.52 41,433.58 42,433.58 42,432.55 43,432.55 43,434.04 44,434.04 44,431.46 45,431.46 45,433.64 46,433.64 46,433.53 47,433.53 47,435.79 48,435.79 48,431.77 49,431.77 49,433.25 50,433.25 50,430.69 51,430.69 51,435.12 52,435.12 52,434.48 53,434.48 53,430.96 54,430.96 54,433.51 55,433.51 55,437.03 56,437.03 56,432.79 57,432.79 57,434.18 58,434.18 58,431.5 59,431.5 59,432.97 60,432.97 60,431.01 61,431.01 61,430.33 62,430.33 62,433.25 63,433.25 63,434.51 64,434.51 64,433.05 65,433.05 65,428.97 66,428.97 66,433.65 67,433.65 67,429.98 68,429.98 68,432.97 69,432.97 69,430.53 70,430.53 70,431.23 71,431.23 71,428.91 72,428.91 72,429.49 73,429.49 73,428.63 74,428.63 74,427.5 75,427.5 75,432.39 76,432.39 76,430.2 77,430.2 77,428.84 78,428.84 78,427.34 79,427.34 79,427.02 80,427.02 80,427.24 81,427.24 81,428.12 82,428.12 82,427.57 83,427.57 83,427.79 84,427.79 84,424.88 85,424.88 85,426.49 86,426.49 86,426.74 87,426.74 87,427.72 88,427.72 88,424.32 89,424.32 89,421.08 90,421.08 90,420.59 91,420.59 91,426.94 92,426.94 92,429.2 93,429.2 93,425.5 94,425.5 94,427.36 95.5,427.36 95.5,426.6 96.5,426.6 96.5,427.78 97.5,427.78 97.5,427.44 98.75,427.44 98.75,423.71 100,423.71 100,423.58 101,423.58 101,423.07 102,423.07 102,422.29 103,422.29 103,421.54 104,421.54 104,420.1 105,420.1 105,420.39 106,420.39 106,419.04 107.25,419.04 107.25,417.72 108.5,417.72 108.5,413.52 109.65,413.52 109.65,417.54 110.8,417.54 110.8,422.74 111.9,422.74 111.9,415.06 113,415.06 113,412.74 114.6,412.74 114.6,406.36 115.8,406.36 115.8,406.99 117,406.99 117,410.08 118.5,410.08 118.5,402.27 119.4,402.27 119.4,401.7 120.3,401.7 120.3,400.95 121,400.95 121,391.87 121.7,391.87 121.7,409.23 122.85,409.23 122.85,404.92 124,404.92 124,400.35 125,400.35 125,400.95 126,400.95 126,399.32 127,399.32 127,398.09 128,398.09 128,398.4 129,398.4 129,399 130.25,399 130.25,401.34 131.5,401.34 131.5,404.61 132.53,404.61 132.53,407.45 133.57,407.45 133.57,407.84 134.6,407.84 134.6,410.3 135.8,410.3 135.8,411.95 137,411.95 137,414.13 138.1,414.13 138.1,417.92 139.2,417.92 139.2,419.77 140.1,419.77 140.1,421.52 141,421.52 141,424.85 141.7,424.85 141.7,431.85 142.3,431.85 142.3,424.31 143.45,424.31 143.45,425.91 144.6,425.91 144.6,428.34 145.63,428.34 145.63,430.11 146.67,430.11 146.67,431.17 147.7,431.17 147.7,433.24 148.97,433.24 148.97,434.66 150.23,434.66 150.23,436.54 151.5,436.54 151.5,438.28 152.47,438.28 152.47,437.87 153.45,437.87 153.45,440.1 154.43,440.1 154.43,439.68 155.4,439.68 155.4,439.12 156.55,439.12 156.55,439.91 157.7,439.91 157.7,440.75 158.85,440.75 158.85,442.5 160,442.5 160,442.54 161,442.54 161,442.79 162,442.79 162,442.62 163,442.62 163,442.78 164,442.78 164,441.45 165,441.45 165,441.16 166,441.16 166,443.99 167,443.99 167,442.27 168,442.27 168,441.63 169,441.63 169,443.1 170,443.1 170,443.03 171,443.03 171,441.02 172,441.02 172,443.44 173,443.44 173,442.36 174,442.36 174,444.06 175,444.06 175,441.62 176,441.62 176,440.63 177,440.63 177,442.44 178,442.44 178,444.24 179,444.24 179,442.27 180,442.27 180,441.87 181.5,441.87 181.5,432.32 182,432.32 182,442.96" fill="none" stroke="#000" stroke-width="2.5" stroke-linejoin="miter" stroke-miterlimit="2"/>
<line x1="27.1" y1="397" x2="27.1" y2="445" stroke="#111" stroke-width="1.6"/>
</g>
<path d="M24.5,353.75 H182.5 V445" fill="none" stroke="#444" stroke-width="1.1"/>
<line x1="24.5" y1="445" x2="182.5" y2="445" stroke="#222" stroke-width="1.3"/>
<line x1="25.0" y1="353.25" x2="25.0" y2="445.5" stroke="#111" stroke-width="2.2"/>
<path d="M20,445H24.5M22.2,441.96H24.5M22.2,438.92H24.5M22.2,435.88H24.5M22.2,432.83H24.5M20,429.79H24.5M22.2,426.75H24.5M22.2,423.71H24.5M22.2,420.67H24.5M22.2,417.62H24.5M20,414.58H24.5M22.2,411.54H24.5M22.2,408.5H24.5M22.2,405.46H24.5M22.2,402.42H24.5M20,399.38H24.5M22.2,396.33H24.5M22.2,393.29H24.5M22.2,390.25H24.5M22.2,387.21H24.5M20,384.17H24.5M22.2,381.12H24.5M22.2,378.08H24.5M22.2,375.04H24.5M22.2,372H24.5M20,368.96H24.5M22.2,365.92H24.5M22.2,362.88H24.5M22.2,359.83H24.5M22.2,356.79H24.5M20,353.75H24.5" stroke="#222" stroke-width="0.8"/>
<text transform="translate(16.4,445) rotate(-90)" text-anchor="middle" font-size="8.4" fill="#111" stroke="#111" stroke-width="0.25">0</text>
<text transform="translate(16.4,429.79) rotate(-90)" text-anchor="middle" font-size="8.4" fill="#111" stroke="#111" stroke-width="0.25">5</text>
<text transform="translate(16.4,414.58) rotate(-90)" text-anchor="middle" font-size="8.4" fill="#111" stroke="#111" stroke-width="0.25">10</text>
<text transform="translate(16.4,399.38) rotate(-90)" text-anchor="middle" font-size="8.4" fill="#111" stroke="#111" stroke-width="0.25">15</text>
<text transform="translate(16.4,384.17) rotate(-90)" text-anchor="middle" font-size="8.4" fill="#111" stroke="#111" stroke-width="0.25">20</text>
<text transform="translate(16.4,368.96) rotate(-90)" text-anchor="middle" font-size="8.4" fill="#111" stroke="#111" stroke-width="0.25">25</text>
<text transform="translate(16.4,353.75) rotate(-90)" text-anchor="middle" font-size="8.4" fill="#111" stroke="#111" stroke-width="0.25">30</text>
<text transform="translate(8.2,401.38) rotate(-90)" text-anchor="middle" font-size="8.9" fill="#111" stroke="#111" stroke-width="0.2">Counts</text>
<path d="M24.5,445v4M36.32,445v2.5M43.23,445v2.5M48.13,445v2.5M51.93,445v2.5M55.04,445v2.5M57.67,445v2.5M59.95,445v2.5M61.95,445v2.5M63.75,445v4M75.57,445v2.5M82.48,445v2.5M87.38,445v2.5M91.18,445v2.5M94.29,445v2.5M96.92,445v2.5M99.2,445v2.5M101.2,445v2.5M103,445v4M114.82,445v2.5M121.73,445v2.5M126.63,445v2.5M130.43,445v2.5M133.54,445v2.5M136.17,445v2.5M138.45,445v2.5M140.45,445v2.5M142.25,445v4M154.07,445v2.5M160.98,445v2.5M165.88,445v2.5M169.68,445v2.5M172.79,445v2.5M175.42,445v2.5M177.7,445v2.5M179.7,445v2.5M182.5,445v4" stroke="#222" stroke-width="0.8"/>
<text transform="translate(146.3,367.9) scale(1.13,1)" font-size="8.9" fill="#111" stroke="#111" stroke-width="0.2">PGE2</text>
<text transform="translate(145.9,377.7) scale(1.13,1)" font-size="8.9" fill="#111" stroke="#111" stroke-width="0.2">10<tspan font-size="6.4" dy="-3.8">-9</tspan><tspan dy="3.8" font-size="8.9"> M</tspan></text>
<line x1="156.5" y1="377.8" x2="146.9" y2="395.56" stroke="#000" stroke-width="1.1"/>
<polygon points="143.1,402.6 143.74,393.85 150.07,397.27" fill="#000"/>
<text transform="translate(18.7,459.5) scale(0.86,1)" font-size="9.6" fill="#111" stroke="#111" stroke-width="0.2">10<tspan font-size="7.4" dy="-4.8">0</tspan></text>
<text transform="translate(57.95,459.5) scale(0.86,1)" font-size="9.6" fill="#111" stroke="#111" stroke-width="0.2">10<tspan font-size="7.4" dy="-4.8">1</tspan></text>
<text transform="translate(97.2,459.5) scale(0.86,1)" font-size="9.6" fill="#111" stroke="#111" stroke-width="0.2">10<tspan font-size="7.4" dy="-4.8">2</tspan></text>
<text transform="translate(136.45,459.5) scale(0.86,1)" font-size="9.6" fill="#111" stroke="#111" stroke-width="0.2">10<tspan font-size="7.4" dy="-4.8">3</tspan></text>
<text transform="translate(175.7,459.5) scale(0.86,1)" font-size="9.6" fill="#111" stroke="#111" stroke-width="0.2">10<tspan font-size="7.4" dy="-4.8">4</tspan></text>
<text transform="translate(104.2,468) scale(0.84,1)" text-anchor="middle" font-size="9.6" fill="#111" stroke="#111" stroke-width="0.2">FL1-H</text>
<text x="27.1" y="243.2" font-size="7.4" fill="#222">0</text>
<text x="66.35" y="243.2" font-size="7.4" fill="#222">1</text>
<text x="105.6" y="243.2" font-size="7.4" fill="#222">2</text>
<text x="144.85" y="243.2" font-size="7.4" fill="#222">3</text>
<text x="184.1" y="243.2" font-size="7.4" fill="#222">4</text>
<rect x="20" y="239.3" width="180" height="8" fill="#fff"/>
<line x1="283" y1="143.71" x2="520" y2="143.71" stroke="#555" stroke-width="0.95"/>
<line x1="283" y1="123.83" x2="520" y2="123.83" stroke="#555" stroke-width="0.95"/>
<line x1="283" y1="103.94" x2="520" y2="103.94" stroke="#555" stroke-width="0.95"/>
<line x1="283" y1="64.17" x2="520" y2="64.17" stroke="#555" stroke-width="0.95"/>
<line x1="283" y1="44.28" x2="520" y2="44.28" stroke="#555" stroke-width="0.95"/>
<line x1="283" y1="24.4" x2="283" y2="163.6" stroke="#555" stroke-width="1"/>
<line x1="283" y1="163.6" x2="520" y2="163.6" stroke="#333" stroke-width="1.1"/>
<path d="M278.5,163.6H283M278.5,143.71H283M278.5,123.83H283M278.5,103.94H283M278.5,84.06H283M278.5,64.17H283M278.5,44.28H283M278.5,24.4H283M283,163.6v3M309.33,163.6v3M335.66,163.6v3M361.99,163.6v3M388.32,163.6v3M414.65,163.6v3M440.98,163.6v3M467.31,163.6v3M493.64,163.6v3M519.97,163.6v3" stroke="#555" stroke-width="0.9"/>
<text transform="translate(269.9,168.8) scale(1.08,1)" text-anchor="end" font-size="10.7" fill="#222" stroke="#222" stroke-width="0.15">0</text>
<text transform="translate(269.9,148.91) scale(1.08,1)" text-anchor="end" font-size="10.7" fill="#222" stroke="#222" stroke-width="0.15">100</text>
<text transform="translate(269.9,129.03) scale(1.08,1)" text-anchor="end" font-size="10.7" fill="#222" stroke="#222" stroke-width="0.15">200</text>
<text transform="translate(269.9,109.14) scale(1.08,1)" text-anchor="end" font-size="10.7" fill="#222" stroke="#222" stroke-width="0.15">300</text>
<text transform="translate(269.9,89.26) scale(1.08,1)" text-anchor="end" font-size="10.7" fill="#222" stroke="#222" stroke-width="0.15">400</text>
<text transform="translate(269.9,69.37) scale(1.08,1)" text-anchor="end" font-size="10.7" fill="#222" stroke="#222" stroke-width="0.15">500</text>
<text transform="translate(269.9,49.48) scale(1.08,1)" text-anchor="end" font-size="10.7" fill="#222" stroke="#222" stroke-width="0.15">600</text>
<text transform="translate(269.9,29.6) scale(1.08,1)" text-anchor="end" font-size="10.7" fill="#222" stroke="#222" stroke-width="0.15">700</text>
<text transform="translate(237.9,93.8) rotate(-90)" text-anchor="middle" font-weight="bold" font-size="11" letter-spacing="0.6" fill="#111">CXCR4 Expression (MFI)</text>
<defs><linearGradient id="bg" x1="0" x2="1" y1="0" y2="0"><stop offset="0" stop-color="#333"/><stop offset="0.12" stop-color="#555"/><stop offset="0.35" stop-color="#8a8a8a"/><stop offset="0.7" stop-color="#bdbdbd"/><stop offset="0.9" stop-color="#e8e8e8"/><stop offset="1" stop-color="#f0f0f0"/></linearGradient><pattern id="hatch" patternUnits="userSpaceOnUse" width="2.5" height="2.5" patternTransform="rotate(-45)"><rect width="2.5" height="2.5" fill="#fff"/><rect width="1.25" height="2.5" fill="#000"/></pattern></defs>
<rect x="291.15" y="148.05" width="9.9" height="15.55" fill="#fff" stroke="#000" stroke-width="1.6"/>
<path d="M296.1,144V152.5M292.2,144h7.8M292.2,152.5h7.8" stroke="#000" stroke-width="1.3" fill="none"/>
<rect x="318.35" y="120" width="9.9" height="43.6" fill="url(#bg)" stroke="#000" stroke-width="1.6"/>
<path d="M323.3,116.2V122.5M319.4,116.2h7.8M319.4,122.5h7.8" stroke="#000" stroke-width="1.3" fill="none"/>
<rect x="343.75" y="126.9" width="9.9" height="36.7" fill="url(#bg)" stroke="#000" stroke-width="1.6"/>
<path d="M348.7,119.6V132M344.8,119.6h7.8M344.8,132h7.8" stroke="#000" stroke-width="1.3" fill="none"/>
<rect x="370.35" y="101" width="9.9" height="62.6" fill="url(#bg)" stroke="#000" stroke-width="1.6"/>
<path d="M375.3,89.7V110.5M371.4,89.7h7.8M371.4,110.5h7.8" stroke="#000" stroke-width="1.3" fill="none"/>
<rect x="396.55" y="77.2" width="9.9" height="86.4" fill="url(#bg)" stroke="#000" stroke-width="1.6"/>
<path d="M401.5,72.85V80M397.6,72.85h7.8M397.6,80h7.8" stroke="#000" stroke-width="1.3" fill="none"/>
<rect x="422.95" y="79.9" width="9.9" height="83.7" fill="url(#bg)" stroke="#000" stroke-width="1.6"/>
<path d="M427.9,68.7V90.5M424,68.7h7.8M424,90.5h7.8" stroke="#000" stroke-width="1.3" fill="none"/>
<rect x="449.3" y="122.1" width="9.9" height="41.5" fill="url(#bg)" stroke="#000" stroke-width="1.6"/>
<path d="M454.25,102.2V141M450.35,102.2h7.8M450.35,141h7.8" stroke="#000" stroke-width="1.3" fill="none"/>
<rect x="474.75" y="52.2" width="9.9" height="111.4" fill="url(#hatch)" stroke="#000" stroke-width="1.6"/>
<path d="M479.7,44V59M475.8,44h7.8M475.8,59h7.8" stroke="#000" stroke-width="1.3" fill="none"/>
<rect x="501.25" y="57.55" width="9.9" height="106.05" fill="#000" stroke="#000" stroke-width="1.6"/>
<path d="M506.2,51.4V62M502.3,51.4h7.8M502.3,62h7.8" stroke="#000" stroke-width="1.3" fill="none"/>
<polygon points="319.84,97.74 320.64,99.7 322.75,99.85 321.13,101.21 321.64,103.26 319.84,102.14 318.05,103.26 318.56,101.21 316.94,99.85 319.05,99.7" fill="#000" stroke="#000" stroke-width="0.5" stroke-linejoin="round"/><polygon points="326.94,97.74 327.74,99.7 329.85,99.85 328.23,101.21 328.74,103.26 326.94,102.14 325.15,103.26 325.66,101.21 324.04,99.85 326.15,99.7" fill="#000" stroke="#000" stroke-width="0.5" stroke-linejoin="round"/>
<polygon points="346.17,97.74 346.97,99.7 349.08,99.85 347.46,101.21 347.97,103.26 346.17,102.14 344.38,103.26 344.89,101.21 343.27,99.85 345.38,99.7" fill="#000" stroke="#000" stroke-width="0.5" stroke-linejoin="round"/><polygon points="353.27,97.74 354.07,99.7 356.18,99.85 354.56,101.21 355.07,103.26 353.27,102.14 351.48,103.26 351.99,101.21 350.37,99.85 352.48,99.7" fill="#000" stroke="#000" stroke-width="0.5" stroke-linejoin="round"/>
<polygon points="376.05,75.24 376.85,77.2 378.96,77.35 377.34,78.71 377.85,80.76 376.05,79.64 374.26,80.76 374.77,78.71 373.15,77.35 375.26,77.2" fill="#000" stroke="#000" stroke-width="0.5" stroke-linejoin="round"/>
<polygon points="402.38,53.74 403.18,55.7 405.29,55.85 403.67,57.21 404.18,59.26 402.38,58.14 400.59,59.26 401.1,57.21 399.48,55.85 401.59,55.7" fill="#000" stroke="#000" stroke-width="0.5" stroke-linejoin="round"/>
<polygon points="428.71,51.24 429.51,53.2 431.62,53.35 430,54.71 430.51,56.76 428.71,55.64 426.92,56.76 427.43,54.71 425.81,53.35 427.92,53.2" fill="#000" stroke="#000" stroke-width="0.5" stroke-linejoin="round"/>
<polygon points="451.49,84.74 452.29,86.7 454.4,86.85 452.78,88.21 453.29,90.26 451.49,89.14 449.7,90.26 450.21,88.21 448.59,86.85 450.7,86.7" fill="#000" stroke="#000" stroke-width="0.5" stroke-linejoin="round"/><polygon points="458.59,84.74 459.39,86.7 461.5,86.85 459.88,88.21 460.39,90.26 458.59,89.14 456.8,90.26 457.31,88.21 455.69,86.85 457.8,86.7" fill="#000" stroke="#000" stroke-width="0.5" stroke-linejoin="round"/>
<polygon points="481.08,27.24 481.87,29.2 483.98,29.35 482.36,30.71 482.87,32.76 481.08,31.64 479.28,32.76 479.79,30.71 478.17,29.35 480.28,29.2" fill="#000" stroke="#000" stroke-width="0.5" stroke-linejoin="round"/>
<polygon points="505.8,34.24 506.6,36.2 508.71,36.35 507.09,37.71 507.6,39.76 505.8,38.64 504.01,39.76 504.52,37.71 502.9,36.35 505.01,36.2" fill="#000" stroke="#000" stroke-width="0.5" stroke-linejoin="round"/>
<text transform="translate(298.27,172.3) rotate(-90)" text-anchor="end" font-size="12" fill="#222">No-stimuli</text>
<text transform="translate(324.6,172.3) rotate(-90)" text-anchor="end" font-size="12" fill="#222">1000</text>
<text transform="translate(350.93,172.3) rotate(-90)" text-anchor="end" font-size="12" fill="#222">100</text>
<text transform="translate(377.25,172.3) rotate(-90)" text-anchor="end" font-size="12" fill="#222">10</text>
<text transform="translate(403.59,172.3) rotate(-90)" text-anchor="end" font-size="12" fill="#222">1</text>
<text transform="translate(429.92,172.3) rotate(-90)" text-anchor="end" font-size="12" fill="#222">0.1</text>
<text transform="translate(456.25,172.3) rotate(-90)" text-anchor="end" font-size="12" fill="#222">0.01</text>
<text transform="translate(482.58,172.3) rotate(-90) scale(0.83,1)" text-anchor="end" font-size="12" fill="#222">VEGF</text>
<text transform="translate(508.9,172.3) rotate(-90) scale(0.83,1)" text-anchor="end" font-size="12" fill="#222">bFGF</text>
<line x1="315" y1="210" x2="461" y2="210" stroke="#222" stroke-width="1.5"/>
<text x="347" y="228" font-size="11.4" fill="#222">PGE2 (nM)</text>
<line x1="287.2" y1="270.22" x2="287.2" y2="449.98" stroke="#666" stroke-width="1"/>
<line x1="287.2" y1="424.3" x2="511.3" y2="424.3" stroke="#666" stroke-width="1"/>
<path d="M284.2,449.98H287.2M284.2,424.3H287.2M284.2,398.62H287.2M284.2,372.94H287.2M284.2,347.26H287.2M284.2,321.58H287.2M284.2,295.9H287.2M284.2,270.22H287.2M287.2,424.3v3.5M332.1,424.3v3.5M377,424.3v3.5M421.9,424.3v3.5M466.8,424.3v3.5M511.7,424.3v3.5" stroke="#666" stroke-width="0.9"/>
<text transform="translate(275.3,454.98) scale(1.07,1)" text-anchor="end" font-size="9.9" fill="#222" stroke="#222" stroke-width="0.12">-50</text>
<text transform="translate(275.3,429.3) scale(1.07,1)" text-anchor="end" font-size="9.9" fill="#222" stroke="#222" stroke-width="0.12">0</text>
<text transform="translate(275.3,403.62) scale(1.07,1)" text-anchor="end" font-size="9.9" fill="#222" stroke="#222" stroke-width="0.12">50</text>
<text transform="translate(275.3,377.94) scale(1.07,1)" text-anchor="end" font-size="9.9" fill="#222" stroke="#222" stroke-width="0.12">100</text>
<text transform="translate(275.3,352.26) scale(1.07,1)" text-anchor="end" font-size="9.9" fill="#222" stroke="#222" stroke-width="0.12">150</text>
<text transform="translate(275.3,326.58) scale(1.07,1)" text-anchor="end" font-size="9.9" fill="#222" stroke="#222" stroke-width="0.12">200</text>
<text transform="translate(275.3,300.9) scale(1.07,1)" text-anchor="end" font-size="9.9" fill="#222" stroke="#222" stroke-width="0.12">250</text>
<text transform="translate(275.3,275.22) scale(1.07,1)" text-anchor="end" font-size="9.9" fill="#222" stroke="#222" stroke-width="0.12">300</text>
<text transform="translate(249.4,359.5) rotate(-90)" text-anchor="middle" font-weight="bold" font-size="11" letter-spacing="1.05" fill="#111">Migrated HMECs/field</text>
<text transform="translate(309.5,442.8) scale(1.07,1)" text-anchor="middle" font-size="9.9" fill="#222" stroke="#222" stroke-width="0.12">0</text>
<text transform="translate(354.3,442.8) scale(1.07,1)" text-anchor="middle" font-size="9.9" fill="#222" stroke="#222" stroke-width="0.12">1</text>
<text transform="translate(399,442.8) scale(1.07,1)" text-anchor="middle" font-size="9.9" fill="#222" stroke="#222" stroke-width="0.12">10</text>
<text transform="translate(443.8,442.8) scale(1.07,1)" text-anchor="middle" font-size="9.9" fill="#222" stroke="#222" stroke-width="0.12">100</text>
<text transform="translate(488.5,442.8) scale(1.07,1)" text-anchor="middle" font-size="9.9" fill="#222" stroke="#222" stroke-width="0.12">1000</text>
<text x="318" y="467.6" font-size="12" fill="#222">SDF-1<tspan font-family="Liberation Serif" font-size="12.5">α</tspan> Concentration (ng/mL)</text>
<path d="M309.5,414.03V426.35M305.5,414.03h8M305.5,426.35h8M354.3,407.09V423.53M350.3,407.09h8M350.3,423.53h8M399,388.86V406.32M395,388.86h8M395,406.32h8M443.8,385.47V399.85M439.8,385.47h8M439.8,399.85h8M488.5,405.81V426.35M484.5,405.81h8M484.5,426.35h8" stroke="#000" stroke-width="1.3" fill="none"/>
<path d="M309.5,413V421.22M305.5,413h8M305.5,421.22h8M354.3,403.76V411.97M350.3,403.76h8M350.3,411.97h8M399,331.85V342.12M395,331.85h8M395,342.12h8M443.8,286.86V297.13M439.8,286.86h8M439.8,297.13h8M488.5,396.57V404.78M484.5,396.57h8M484.5,404.78h8" stroke="#000" stroke-width="1.3" fill="none"/>
<path d="M309.5,414.03V422.25M305.5,414.03h8M305.5,422.25h8M354.3,402.73V410.95M350.3,402.73h8M350.3,410.95h8M399,300.68V324.3M395,300.68h8M395,324.3h8M443.8,294.87V305.14M439.8,294.87h8M439.8,305.14h8M488.5,367.8V376.02M484.5,367.8h8M484.5,376.02h8" stroke="#000" stroke-width="1.3" fill="none"/>
<path d="M309.5,403.24V420.7M305.5,403.24h8M305.5,420.7h8M354.3,380.85V408.58M350.3,380.85h8M350.3,408.58h8M399,343.66V353.94M395,343.66h8M395,353.94h8M443.8,318.24V335.7M439.8,318.24h8M439.8,335.7h8M488.5,386.81V397.08M484.5,386.81h8M484.5,397.08h8" stroke="#000" stroke-width="1.3" fill="none"/>
<path d="M309.5,404.27V421.73M305.5,404.27h8M305.5,421.73h8M354.3,397.8V406.02M350.3,397.8h8M350.3,406.02h8M399,346.23V362.67M395,346.23h8M395,362.67h8M443.8,305.14V317.47M439.8,305.14h8M439.8,317.47h8M488.5,374.48V382.7M484.5,374.48h8M484.5,382.7h8" stroke="#000" stroke-width="1.3" fill="none"/>
<polyline points="309.5,420.19 354.3,415.31 399,397.59 443.8,392.66 488.5,416.08" fill="none" stroke="#000" stroke-width="1.9"/>
<polyline points="309.5,417.11 354.3,407.86 399,336.99 443.8,292 488.5,400.67" fill="none" stroke="#000" stroke-width="1.9"/>
<polyline points="309.5,418.14 354.3,406.84 399,312.49 443.8,300.01 488.5,371.91" fill="none" stroke="#000" stroke-width="1.9"/>
<polyline points="309.5,411.97 354.3,394.72 399,348.8 443.8,326.97 488.5,391.94" fill="none" stroke="#000" stroke-width="1.9"/>
<polyline points="309.5,413 354.3,401.91 399,354.45 443.8,311.31 488.5,378.59" fill="none" stroke="#000" stroke-width="1.9"/>
<rect x="305.4" y="416.09" width="8.2" height="8.2" fill="#000"/><path d="M306.9,417.59L312.1,422.79M312.1,417.59L306.9,422.79" stroke="#fff" stroke-width="2.1"/>
<rect x="350.2" y="411.21" width="8.2" height="8.2" fill="#000"/><path d="M351.7,412.71L356.9,417.91M356.9,412.71L351.7,417.91" stroke="#fff" stroke-width="2.1"/>
<rect x="394.9" y="393.49" width="8.2" height="8.2" fill="#000"/><path d="M396.4,394.99L401.6,400.19M401.6,394.99L396.4,400.19" stroke="#fff" stroke-width="2.1"/>
<rect x="439.7" y="388.56" width="8.2" height="8.2" fill="#000"/><path d="M441.2,390.06L446.4,395.26M446.4,390.06L441.2,395.26" stroke="#fff" stroke-width="2.1"/>
<rect x="484.4" y="411.98" width="8.2" height="8.2" fill="#000"/><path d="M485.9,413.48L491.1,418.68M491.1,413.48L485.9,418.68" stroke="#fff" stroke-width="2.1"/>
<polygon points="309.5,413.01 313.6,417.11 309.5,421.21 305.4,417.11" fill="#fff" stroke="#000" stroke-width="1.5"/>
<polygon points="354.3,403.76 358.4,407.86 354.3,411.96 350.2,407.86" fill="#fff" stroke="#000" stroke-width="1.5"/>
<polygon points="399,332.89 403.1,336.99 399,341.09 394.9,336.99" fill="#fff" stroke="#000" stroke-width="1.5"/>
<polygon points="443.8,287.9 447.9,292 443.8,296.1 439.7,292" fill="#fff" stroke="#000" stroke-width="1.5"/>
<polygon points="488.5,396.57 492.6,400.67 488.5,404.77 484.4,400.67" fill="#fff" stroke="#000" stroke-width="1.5"/>
<polygon points="309.5,413.34 314.3,421.74 304.7,421.74" fill="#000"/>
<polygon points="354.3,402.04 359.1,410.44 349.5,410.44" fill="#000"/>
<polygon points="399,307.69 403.8,316.09 394.2,316.09" fill="#000"/>
<polygon points="443.8,295.21 448.6,303.61 439,303.61" fill="#000"/>
<polygon points="488.5,367.11 493.3,375.51 483.7,375.51" fill="#000"/>
<rect x="305.5" y="407.97" width="8" height="8" fill="#000"/>
<rect x="350.3" y="390.72" width="8" height="8" fill="#000"/>
<rect x="395" y="344.8" width="8" height="8" fill="#000"/>
<rect x="439.8" y="322.97" width="8" height="8" fill="#000"/>
<rect x="484.5" y="387.94" width="8" height="8" fill="#000"/>
<circle cx="309.5" cy="413" r="3.7" fill="#fff" stroke="#000" stroke-width="1.6"/>
<circle cx="354.3" cy="401.91" r="3.7" fill="#fff" stroke="#000" stroke-width="1.6"/>
<circle cx="399" cy="354.45" r="3.7" fill="#fff" stroke="#000" stroke-width="1.6"/>
<circle cx="443.8" cy="311.31" r="3.7" fill="#fff" stroke="#000" stroke-width="1.6"/>
<circle cx="488.5" cy="378.59" r="3.7" fill="#fff" stroke="#000" stroke-width="1.6"/>
<polygon points="398,286.44 398.79,288.4 400.9,288.55 399.28,289.91 399.79,291.96 398,290.84 396.21,291.96 396.72,289.91 395.1,288.55 397.21,288.4" fill="#000" stroke="#000" stroke-width="0.5" stroke-linejoin="round"/>
<polygon points="445,270.94 445.79,272.9 447.9,273.05 446.28,274.41 446.79,276.46 445,275.34 443.21,276.46 443.72,274.41 442.1,273.05 444.21,272.9" fill="#000" stroke="#000" stroke-width="0.5" stroke-linejoin="round"/>
<polygon points="456.5,295.24 457.29,297.2 459.4,297.35 457.78,298.71 458.29,300.76 456.5,299.64 454.71,300.76 455.22,298.71 453.6,297.35 455.71,297.2" fill="#000" stroke="#000" stroke-width="0.5" stroke-linejoin="round"/>
<polygon points="457.5,307.64 458.29,309.6 460.4,309.75 458.78,311.11 459.29,313.16 457.5,312.04 455.71,313.16 456.22,311.11 454.6,309.75 456.71,309.6" fill="#000" stroke="#000" stroke-width="0.5" stroke-linejoin="round"/>
<polygon points="435,321.94 435.79,323.9 437.9,324.05 436.28,325.41 436.79,327.46 435,326.34 433.21,327.46 433.72,325.41 432.1,324.05 434.21,323.9" fill="#000" stroke="#000" stroke-width="0.5" stroke-linejoin="round"/>
<polygon points="407.5,350.24 408.29,352.2 410.4,352.35 408.78,353.71 409.29,355.76 407.5,354.64 405.71,355.76 406.22,353.71 404.6,352.35 406.71,352.2" fill="#000" stroke="#000" stroke-width="0.5" stroke-linejoin="round"/>
<polygon points="402,323.44 402.79,325.4 404.9,325.55 403.28,326.91 403.79,328.96 402,327.84 400.21,328.96 400.72,326.91 399.1,325.55 401.21,325.4" fill="#000" stroke="#000" stroke-width="0.5" stroke-linejoin="round"/>
<polygon points="440.45,375.74 441.24,377.7 443.35,377.85 441.73,379.21 442.24,381.26 440.45,380.14 438.66,381.26 439.17,379.21 437.55,377.85 439.66,377.7" fill="#000" stroke="#000" stroke-width="0.5" stroke-linejoin="round"/><polygon points="447.55,375.74 448.34,377.7 450.45,377.85 448.83,379.21 449.34,381.26 447.55,380.14 445.76,381.26 446.27,379.21 444.65,377.85 446.76,377.7" fill="#000" stroke="#000" stroke-width="0.5" stroke-linejoin="round"/>
<line x1="297.3" y1="279.4" x2="323.7" y2="279.4" stroke="#000" stroke-width="1.8"/>
<rect x="306.1" y="275.3" width="8.2" height="8.2" fill="#000"/><path d="M307.6,276.8L312.8,282M312.8,276.8L307.6,282" stroke="#fff" stroke-width="2.1"/>
<text x="326" y="283.7" font-size="12" fill="#111">Control</text>
<line x1="297.3" y1="296" x2="323.7" y2="296" stroke="#000" stroke-width="1.8"/>
<polygon points="310.2,291.9 314.3,296 310.2,300.1 306.1,296" fill="#fff" stroke="#000" stroke-width="1.5"/>
<text x="326" y="300.3" font-size="12" fill="#111">VEGF</text>
<line x1="297.3" y1="312.6" x2="323.7" y2="312.6" stroke="#000" stroke-width="1.8"/>
<polygon points="310.2,307.8 315,316.2 305.4,316.2" fill="#000"/>
<text x="326" y="316.9" font-size="12" fill="#111">bFGF</text>
<line x1="297.3" y1="329.2" x2="323.7" y2="329.2" stroke="#000" stroke-width="1.8"/>
<rect x="306.2" y="325.2" width="8" height="8" fill="#000"/>
<text x="326" y="333.5" font-size="12" fill="#111">PGE2 -9</text>
<line x1="297.3" y1="345.8" x2="323.7" y2="345.8" stroke="#000" stroke-width="1.8"/>
<circle cx="310.2" cy="345.8" r="3.7" fill="#fff" stroke="#000" stroke-width="1.6"/>
<text x="326" y="350.1" font-size="12" fill="#111">PGE2 -8</text>
</svg></body></html>
